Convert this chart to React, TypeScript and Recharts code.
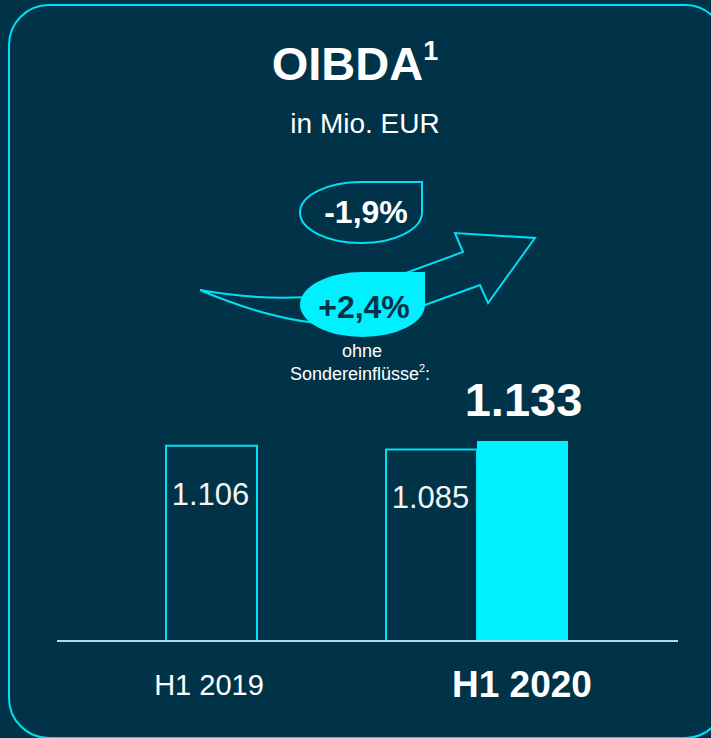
import React from "react";
import { BarChart, Bar, XAxis, YAxis, LabelList } from "recharts";

const categories = ["H1 2019", "H1 2020"];
const reported = [1106, 1085];
const adjusted: (number | null)[] = [null, 1133];
const valueLabels = ["1.106", "1.085"];
const adjustedLabels = ["", "1.133"];
const changeReported = "-1,9%";
const changeAdjusted = "+2,4%";

const data = categories.map((c, i) => ({
  cat: c,
  reported: reported[i],
  adjusted: adjusted[i],
  rLabel: valueLabels[i],
  aLabel: adjustedLabels[i],
}));

const BG = "#003347";
const CYAN = "#00f0ff";
const LINE = "#00e0f0";
const FONT = "'Liberation Sans', Arial, sans-serif";

const Tick = (props: any) => {
  const { x, y, payload, index } = props;
  const bold = index === 1;
  return (
    <text
      x={x + (index === 0 ? -48 : 45)}
      y={y + (bold ? 56 : 54)}
      textAnchor="middle"
      fill="#ffffff"
      fontFamily={FONT}
      fontSize={bold ? 37 : 29}
      fontWeight={bold ? 700 : 400}
    >
      {payload.value}
    </text>
  );
};

const ReportedLabel = (props: any) => {
  const { x, y, width, value } = props;
  if (value == null || value === "") return null;
  return (
    <text x={x + width / 2 - 1} y={y + 59} textAnchor="middle" fill="#f4f4f4" fontFamily={FONT} fontSize={31}>
      {value}
    </text>
  );
};

const AdjustedLabel = (props: any) => {
  const { x, y, width, value } = props;
  if (value == null || value === "") return null;
  return (
    <text x={x + width / 2 + 1} y={y - 25} textAnchor="middle" fill="#ffffff" fontFamily={FONT} fontSize={47} fontWeight={700}>
      {value}
    </text>
  );
};

function teardrop(L: number, T: number, R: number, B: number) {
  const cx = (L + R) / 2;
  const cy = (T + B) / 2;
  const rx = (R - L) / 2;
  const ry = (B - T) / 2;
  return `M${R},${T} L${R},${cy} A${rx},${ry} 0 0 1 ${cx},${B} A${rx},${ry} 0 0 1 ${L},${cy} A${rx},${ry} 0 0 1 ${cx},${T} Z`;
}

export default function App() {
  return (
    <div
      style={{
        position: "absolute",
        left: 0,
        top: 0,
        width: 711,
        height: 738,
        background: BG,
        overflow: "hidden",
        fontFamily: FONT,
      }}
    >
      <svg width={711} height={738} style={{ position: "absolute", left: 0, top: 0 }}>
        <rect x={9} y={5} width={716} height={733} rx={40} ry={40} fill="none" stroke={LINE} strokeWidth={2} />
        <text x={355} y={80} textAnchor="middle" fill="#ffffff" fontFamily={FONT} fontSize={47} fontWeight={700}>
          OIBDA
          <tspan fontSize={27} dy={-20}>1</tspan>
        </text>
        <text x={365} y={133} textAnchor="middle" fill="#ffffff" fontFamily={FONT} fontSize={28}>
          in Mio. EUR
        </text>
        {/* arrow */}
        <path
          d="M200,290 Q290,306 362,289 L463,252 L455,233 L535,238 L488,303 L480,285 L425,305 Q340,350 200,290 Z"
          fill={BG}
          stroke={LINE}
          strokeWidth={2}
          strokeLinejoin="miter"
        />
        <path d={teardrop(300, 272, 425, 337)} fill={CYAN} stroke="none" />
        <path d={teardrop(300, 182, 422, 243)} fill={BG} stroke={LINE} strokeWidth={2} />
        <text x={366} y={223} textAnchor="middle" fill="#ffffff" fontFamily={FONT} fontSize={32} fontWeight={700}>
          {changeReported}
        </text>
        <text x={364} y={318} textAnchor="middle" fill={BG} fontFamily={FONT} fontSize={32} fontWeight={700}>
          {changeAdjusted}
        </text>
        <text x={362} y={357} textAnchor="middle" fill="#ffffff" fontFamily={FONT} fontSize={18}>
          ohne
        </text>
        <text x={360} y={380} textAnchor="middle" fill="#ffffff" fontFamily={FONT} fontSize={18}>
          Sondereinflüsse
          <tspan fontSize={11} dy={-8}>2</tspan>
          <tspan dy={8}>:</tspan>
        </text>
      </svg>
      <div style={{ position: "absolute", left: 0, top: 0 }}>
        <BarChart
          width={711}
          height={738}
          data={data}
          margin={{ top: 400, right: 33, bottom: 37, left: 57 }}
          barGap={0}
          barSize={91}
        >
          <XAxis
            dataKey="cat"
            height={60}
            padding={{ left: 90, right: 91 }}
            tickLine={false}
            tickSize={0}
            tickMargin={0}
            axisLine={{ stroke: "#a9dcec", strokeWidth: 2 }}
            tick={<Tick />}
            interval={0}
          />
          <YAxis hide domain={[0, 1365]} />
          <Bar dataKey="reported" fill={BG} stroke={LINE} strokeWidth={2} isAnimationActive={false}>
            <LabelList dataKey="rLabel" content={<ReportedLabel />} />
          </Bar>
          <Bar dataKey="adjusted" fill={CYAN} isAnimationActive={false}>
            <LabelList dataKey="aLabel" content={<AdjustedLabel />} />
          </Bar>
        </BarChart>
      </div>
    </div>
  );
}
